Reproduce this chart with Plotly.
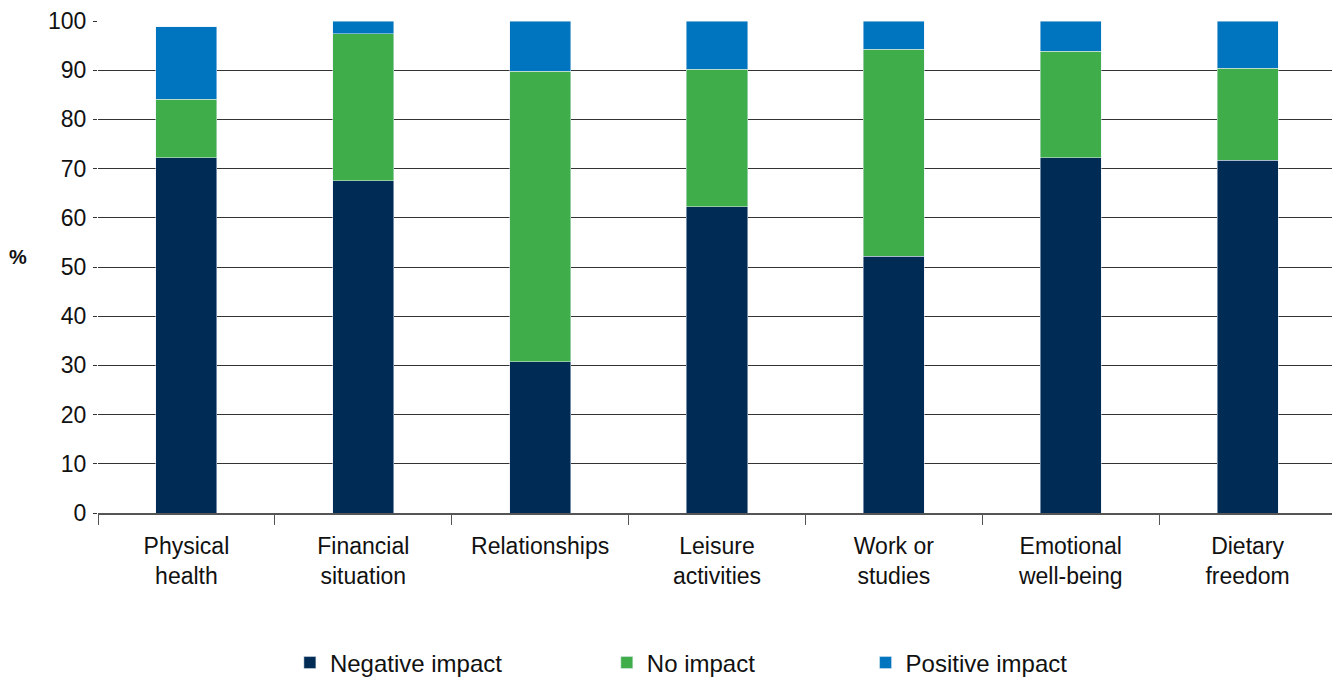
import plotly.graph_objects as go

categories = ["Physical<br>health", "Financial<br>situation", "Relationships",
              "Leisure<br>activities", "Work or<br>studies", "Emotional<br>well-being",
              "Dietary<br>freedom"]
negative = [72.2, 67.5, 30.7, 62.2, 52.2, 72.2, 71.7]
no_impact = [11.9, 29.9, 59.1, 28.0, 42.1, 21.7, 18.7]
positive = [14.7, 2.6, 10.2, 9.8, 5.7, 6.1, 9.6]
y_ticks = list(range(0, 101, 10))

FONT = "Liberation Sans, Arial, Helvetica, sans-serif"

fig = go.Figure()
fig.add_bar(x=categories, y=negative, name="Negative impact", marker_color="#002B55",
            width=0.345, legend="legend")
fig.add_bar(x=categories, y=no_impact, name="No impact", marker_color="#3FAD4A",
            width=0.345, legend="legend2")
fig.add_bar(x=categories, y=positive, name="Positive impact", marker_color="#0075BF",
            width=0.345, legend="legend3")

# page body has an 8px default margin: size the figure so it fills the window
leg = dict(orientation="h", yanchor="middle", yref="container", y=0.021,
           xanchor="left", font=dict(family=FONT, size=24, color="#111"),
           bgcolor="rgba(0,0,0,0)")
fig.update_layout(
    barmode="stack",
    width=1332, height=669,
    margin=dict(l=90, r=4, t=13, b=164),
    plot_bgcolor="white", paper_bgcolor="white",
    font=dict(family=FONT, size=23, color="#111"),
    showlegend=True,
    legend=dict(leg, x=0.155),
    legend2=dict(leg, x=0.411),
    legend3=dict(leg, x=0.620),
    xaxis=dict(showline=True, linecolor="#555", linewidth=1.5, ticks="outside",
               tickson="boundaries", ticklen=10, tickcolor="#555", tickwidth=1,
               showgrid=False, tickfont=dict(size=23), ticklabelstandoff=12,
               automargin=False),
    yaxis=dict(range=[0, 100], tickvals=y_ticks, showgrid=True, gridcolor="#333",
               gridwidth=1, ticks="outside", ticklen=4, tickcolor="#333",
               zeroline=False, tickfont=dict(size=23), ticklabelstandoff=2,
               automargin=False),
    annotations=[dict(text="<b>%</b>", xref="paper", yref="paper", x=-0.065, y=0.52,
                      xanchor="center", yanchor="middle", showarrow=False,
                      font=dict(size=20, family=FONT, color="#111"))],
)

fig.write_html("out.html")
